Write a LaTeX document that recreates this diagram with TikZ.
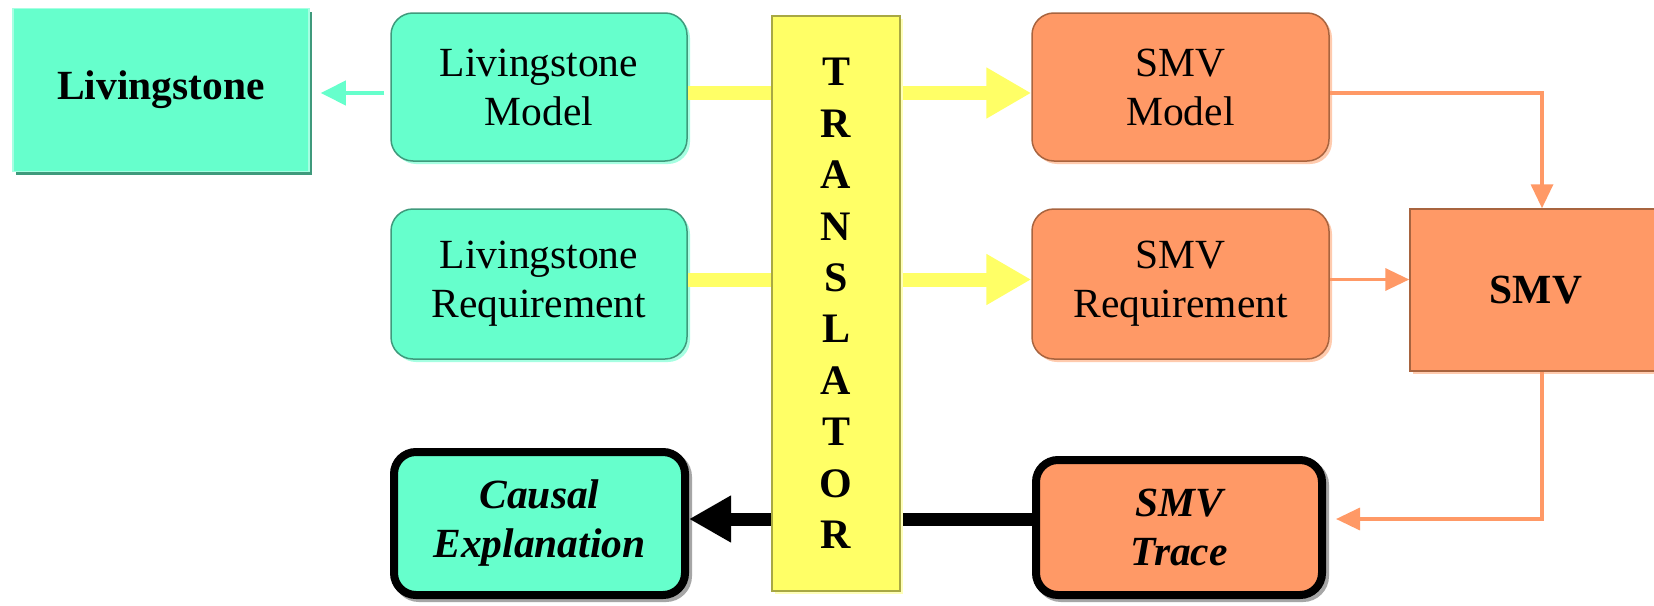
\documentclass[tikz,border=0pt]{standalone}
\usepackage{fontspec}
\setmainfont{Liberation Serif}
\usetikzlibrary{shadows,arrows.meta}
\definecolor{tealF}{HTML}{66FFCC}
\definecolor{tealD}{HTML}{3F9A7C}
\definecolor{tealL}{HTML}{A6FFE2}
\definecolor{orF}{HTML}{FF9966}
\definecolor{orD}{HTML}{A8643F}
\definecolor{orL}{HTML}{FFCBAE}
\definecolor{yeF}{HTML}{FFFF66}
\definecolor{yeD}{HTML}{A8A844}
\definecolor{yeL}{HTML}{FFFFB8}
\tikzset{
  txt/.style={font=\fontsize{41.5}{49}\selectfont, align=center, inner sep=0pt},
  tealround/.style={txt, fill=tealF, draw=tealD, line width=1.5pt, rounded corners=22pt,
    drop shadow={shadow xshift=3pt, shadow yshift=-3pt, fill=tealL, opacity=1}},
  orround/.style={txt, fill=orF, draw=orD, line width=1.5pt, rounded corners=22pt,
    drop shadow={shadow xshift=3pt, shadow yshift=-3pt, fill=orL, opacity=1}},
  tealsq/.style={txt, fill=tealF, draw=tealL, line width=1.5pt,
    drop shadow={shadow xshift=3pt, shadow yshift=-3pt, fill=tealD, opacity=1}},
  orsq/.style={txt, fill=orF, draw=orD, line width=1.5pt,
    drop shadow={shadow xshift=3pt, shadow yshift=-3pt, fill=orL, opacity=1}},
  thickbox/.style={txt, draw=black, line width=8pt, rounded corners=22pt,
    drop shadow={shadow xshift=3pt, shadow yshift=-3pt, fill=gray!70, draw=gray!70, line width=8pt, opacity=1}},
  transbox/.style={fill=yeF, draw=yeD, line width=1.5pt, inner sep=0pt, align=center,
    font=\fontsize{42}{51.4}\selectfont\bfseries,
    drop shadow={shadow xshift=3pt, shadow yshift=-3pt, fill=yeL, opacity=1}},
  tealarr/.style={draw=tealF, line width=4pt, -{Triangle[length=25pt,width=24pt]}},
  yelarr/.style={draw=yeF, line width=14pt, -{Triangle[length=45pt,width=48pt]}},
  orarr/.style={draw=orF, line width=3.5pt, -{Triangle[length=24pt,width=22pt]}},
  blkarr/.style={draw=black, line width=13pt, -{Triangle[length=42pt,width=44pt]}}
}
\begin{document}
\begin{tikzpicture}[x=1pt,y=-1pt]
\useasboundingbox (0,0) rectangle (1654,605);
\clip (0,0) rectangle (1654,605);
\fill[white] (0,0) rectangle (1654,605);
% nodes
\node[tealsq, minimum width=296pt, minimum height=163pt] (liv) at (161,90) {\bfseries Livingstone};
\node[tealround, minimum width=296pt, minimum height=148pt] (livm) at (539,87) {Livingstone\\Model};
\node[tealround, minimum width=296pt, minimum height=150pt] (livr) at (539,284) {Livingstone\\Requirement};
\node[orround, minimum width=297pt, minimum height=148pt] (smvm) at (1180.5,87) {SMV\\Model};
\node[orround, minimum width=297pt, minimum height=150pt] (smvr) at (1180.5,284) {SMV\\Requirement};
\node[orsq, minimum width=252pt, minimum height=162pt] (smv) at (1536,290) {\bfseries SMV};
\node[thickbox, fill=tealF, minimum width=291pt, minimum height=143pt] (causal) at (539.5,523.5) {\bfseries\itshape Causal\\\bfseries\itshape Explanation};
\node[thickbox, fill=orF, minimum width=286pt, minimum height=135pt] (trace) at (1179,527.5) {\bfseries\itshape SMV\\\bfseries\itshape Trace};
% connectors
\draw[tealarr, shorten >=11pt] ([yshift=-6pt,xshift=-6pt]livm.west) -- ([yshift=-6pt]livm.west -| liv.east);
\draw[yelarr] ([yshift=-6pt]livm.east) -- ([yshift=-6pt]smvm.west);
\draw[yelarr] ([yshift=4.5pt]livr.east) -- ([yshift=4.5pt]smvr.west);
\coordinate (r1) at ([yshift=4.5pt]smvr.east);
\draw[orarr] (r1) -- (r1 -| smv.west);
\draw[orarr] ([yshift=-6pt]smvm.east) -| ([xshift=6pt]smv.north);
\coordinate (t1) at ([yshift=8.5pt]trace.east);
\draw[orarr, shorten >=10pt] ([xshift=6pt]smv.south) |- (t1);
\coordinate (t2) at ([yshift=8.5pt]trace.west);
\draw[blkarr] (t2) -- (t2 -| causal.east);
% translator on top
\node[transbox, minimum width=128pt, minimum height=575pt] (trans) at (836,303.5)
  {T\\R\\A\\N\\S\\L\\A\\T\\O\\R};
\end{tikzpicture}
\end{document}
